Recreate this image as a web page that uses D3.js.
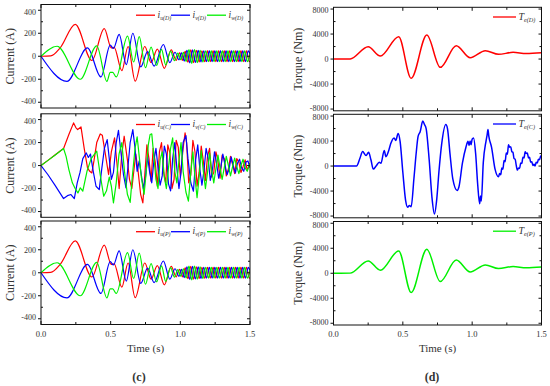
<!DOCTYPE html>
<html>
<head>
<meta charset="utf-8">
<script src="https://cdn.jsdelivr.net/npm/d3@7"></script>
<style>
  body { margin: 0; background: #fff; }
  text { font-family: "Liberation Serif", "Times New Roman", Times, serif; }
</style>
</head>
<body>
<svg id="chart" width="550" height="386"></svg>
<script>
// tick values
const timeTicks = [0, 0.5, 1.0, 1.5];
const timeMinor = [0.25, 0.75, 1.25];
const currentTicks = [-400, -200, 0, 200, 400];
const currentMinor = [-300, -100, 100, 300];
const torqueTicks = [-8000, -4000, 0, 4000, 8000];
const torqueMinor = [-6000, -2000, 2000, 6000];

// phase currents, (D) case  [time s, current A]
const iuD = [[0,0],[0.07,3],[0.139,75],[0.246,277],[0.365,-37],[0.454,240],[0.505,72],[0.525,78],[0.58,-125],[0.625,85],[0.676,-217],
  [0.745,85],[0.79,-55],[0.835,62],[0.885,-105],[0.935,55],[0.97,-35],[0.995,30],[1.015,-35],[1.035,42],[1.055,-52],
  [1.075,56],[1.095,-55],[1.115,52],[1.135,-50],[1.155,48],[1.175,-48],[1.195,47],[1.215,-47],[1.235,47],[1.255,-47],
  [1.275,47],[1.295,-47],[1.315,47],[1.335,-47],[1.355,47],[1.375,-47],[1.395,47],[1.415,-47],[1.435,47],[1.455,-47],
  [1.475,47],[1.495,-47],[1.5,-44]];
const ivD = [[0,0],[0.186,-218],[0.334,72],[0.43,-180],[0.497,96],[0.52,68],[0.561,190],[0.612,-72],[0.659,200],[0.716,-92],
  [0.765,40],[0.812,-85],[0.878,102],[0.925,-55],[0.962,35],[0.99,-30],[1.008,30],[1.028,-42],[1.048,52],[1.068,-57],
  [1.088,55],[1.108,-54],[1.128,51],[1.148,-49],[1.168,48],[1.188,-47],[1.208,47],[1.228,-47],[1.248,47],[1.268,-47],
  [1.288,47],[1.308,-47],[1.328,47],[1.348,-47],[1.368,47],[1.388,-47],[1.408,47],[1.428,-47],[1.448,47],[1.468,-47],
  [1.488,47],[1.5,20]];
const iwD = [[0,0],[0.115,87],[0.282,-200],[0.40,90],[0.473,-218],[0.497,-140],[0.515,-140],[0.54,-180],[0.621,175],
  [0.665,-50],[0.705,170],[0.75,-100],[0.79,80],[0.83,-80],[0.865,60],[0.895,-75],[0.93,45],[0.958,-38],[0.982,28],
  [1.002,-30],[1.022,35],[1.042,-45],[1.062,58],[1.082,-62],[1.102,58],[1.122,-55],[1.142,52],[1.162,-50],[1.182,48],
  [1.202,-47],[1.222,47],[1.242,-47],[1.262,47],[1.282,-47],[1.302,47],[1.322,-47],[1.342,47],[1.362,-47],[1.382,47],
  [1.402,-47],[1.422,47],[1.442,-47],[1.462,47],[1.482,-47],[1.5,25]];

// phase currents, (C) case
const iuC = [[0,0],[0.05,45],[0.1,92],[0.162,148],[0.2,270],[0.234,371],[0.25,330],[0.263,313],[0.287,336],[0.31,150],
  [0.334,-20],[0.35,-50],[0.365,-64],[0.38,40],[0.40,200],[0.425,275],[0.44,264],[0.462,100],[0.485,-78],[0.505,120],
  [0.528,240],[0.545,20],[0.561,-200],[0.58,100],[0.597,255],[0.62,50],[0.635,-120],[0.652,-200],[0.665,-60],[0.68,100],
  [0.695,-30],[0.715,-250],[0.731,-325],[0.745,-80],[0.76,180],[0.775,60],[0.79,-135],[0.805,150],[0.82,30],[0.835,-180],
  [0.85,120],[0.865,200],[0.88,-60],[0.895,-150],[0.91,180],[0.925,110],[0.94,-200],[0.955,-120],[0.97,220],[0.985,160],
  [1.0,-100],[1.02,150],[1.034,284],[1.045,200],[1.06,-150],[1.075,-80],[1.09,220],[1.105,120],[1.12,-180],[1.135,-60],
  [1.15,170],[1.165,40],[1.18,-130],[1.195,80],[1.21,150],[1.225,-100],[1.24,-60],[1.255,120],[1.27,40],[1.285,-110],
  [1.3,90],[1.315,60],[1.33,-90],[1.345,-30],[1.36,80],[1.375,10],[1.39,-70],[1.405,60],[1.42,30],[1.435,-60],
  [1.45,-10],[1.465,50],[1.48,-40],[1.5,20]];
const ivC = [[0,0],[0.05,-80],[0.1,-170],[0.162,-287],[0.19,-262],[0.215,-252],[0.239,-287],[0.26,-150],[0.28,-60],[0.3,60],
  [0.325,110],[0.34,70],[0.355,100],[0.375,-50],[0.395,-180],[0.418,-209],[0.435,-40],[0.455,150],[0.475,226],[0.49,60],
  [0.505,-120],[0.52,-60],[0.54,200],[0.556,307],[0.575,100],[0.592,-80],[0.61,-195],[0.625,0],[0.64,200],[0.659,313],
  [0.675,150],[0.69,-50],[0.705,40],[0.72,-80],[0.735,-200],[0.75,-100],[0.765,80],[0.78,-60],[0.795,-150],[0.81,40],
  [0.825,150],[0.84,-20],[0.855,-170],[0.87,-90],[0.885,170],[0.9,100],[0.915,-160],[0.93,-220],[0.945,60],[0.96,200],
  [0.975,-20],[0.99,-200],[1.005,-60],[1.02,200],[1.04,260],[1.055,60],[1.075,-150],[1.094,-223],[1.11,50],[1.125,180],
  [1.14,-30],[1.155,-170],[1.17,-40],[1.185,150],[1.2,60],[1.215,-130],[1.23,-40],[1.245,120],[1.26,20],[1.275,-110],
  [1.29,-20],[1.305,100],[1.32,10],[1.335,-80],[1.35,-30],[1.365,75],[1.38,0],[1.395,-65],[1.41,20],[1.425,55],
  [1.44,-20],[1.455,-50],[1.47,30],[1.485,40],[1.5,-20]];
const iwC = [[0,0],[0.05,45],[0.1,90],[0.162,148],[0.18,80],[0.2,-35],[0.225,-150],[0.245,-200],[0.265,-238],[0.282,-194],
  [0.3,-223],[0.33,-50],[0.36,60],[0.40,125],[0.425,-80],[0.45,-267],[0.47,-220],[0.49,-100],[0.505,-180],[0.52,-325],
  [0.54,-150],[0.56,100],[0.58,200],[0.6,-60],[0.62,-250],[0.64,-320],[0.655,-100],[0.675,150],[0.69,250],[0.705,80],
  [0.72,-100],[0.74,-250],[0.755,-60],[0.77,180],[0.783,270],[0.795,275],[0.81,80],[0.825,-120],[0.84,-200],[0.855,50],
  [0.87,120],[0.885,-100],[0.9,-200],[0.915,-20],[0.93,150],[0.945,240],[0.96,-50],[0.975,-150],[0.99,40],[1.005,200],
  [1.02,-50],[1.04,-230],[1.058,-310],[1.075,-60],[1.09,120],[1.105,-100],[1.12,-280],[1.135,-100],[1.15,130],[1.165,-50],
  [1.18,-200],[1.195,-60],[1.21,110],[1.225,-40],[1.24,-150],[1.255,-30],[1.27,90],[1.285,-20],[1.3,-120],[1.315,-20],
  [1.33,80],[1.345,0],[1.36,-90],[1.375,-10],[1.39,65],[1.405,-10],[1.42,-70],[1.435,0],[1.45,55],[1.465,-20],
  [1.48,-50],[1.5,20]];

// (P) curves look the same as (D) in the figure
const iuP = iuD, ivP = ivD, iwP = iwD;

// electromagnetic torque [time s, torque Nm]
const teD = [[0,0],[0.12,20],[0.25,1970],[0.338,480],[0.47,3570],[0.56,-3090],[0.673,3840],[0.77,-1330],[0.885,2130],
  [0.986,210],[1.095,1330],[1.19,750],[1.295,1070],[1.39,880],[1.5,1000]];
const teC = [[0,0],[0.166,0],[0.19,1200],[0.21,2320],[0.235,1680],[0.253,2200],[0.27,1000],[0.287,-490],[0.307,0],
  [0.33,600],[0.342,430],[0.366,2500],[0.378,1500],[0.4,2600],[0.413,3600],[0.437,4500],[0.449,4100],[0.466,5200],
  [0.48,4000],[0.5,-1000],[0.52,-5500],[0.535,-6600],[0.547,-6300],[0.56,-6500],[0.58,-2000],[0.596,2000],[0.61,4750],
  [0.625,5500],[0.644,7190],[0.656,6650],[0.668,6000],[0.69,1000],[0.71,-5000],[0.728,-7675],[0.745,-5200],[0.76,-1000],
  [0.78,3500],[0.81,6650],[0.822,6000],[0.84,2000],[0.86,-2000],[0.892,-3900],[0.904,-3400],[0.93,500],[0.955,3000],
  [0.97,3950],[0.978,3300],[0.985,4000],[0.992,3400],[1.0,4300],[1.01,4500],[1.025,2000],[1.04,-3000],[1.054,-6050],
  [1.06,-4800],[1.066,-5600],[1.08,500],[1.1,4000],[1.108,5000],[1.114,5840],[1.12,4800],[1.14,3000],[1.165,-500],
  [1.19,-1730],[1.198,-1200],[1.206,-1400],[1.214,-300],[1.222,-500],[1.23,900],[1.238,700],[1.246,2100],[1.254,1900],
  [1.262,3400],[1.27,3000],[1.278,3100],[1.286,2300],[1.294,2200],[1.302,1200],[1.31,1100],[1.318,100],[1.326,-650],
  [1.334,-300],[1.342,-400],[1.35,500],[1.358,400],[1.366,1400],[1.374,1300],[1.382,2300],[1.39,2000],[1.398,2100],
  [1.406,1300],[1.414,1400],[1.422,600],[1.43,700],[1.438,100],[1.446,300],[1.454,0],[1.462,600],[1.47,500],
  [1.478,1100],[1.486,1000],[1.494,1600],[1.5,1400]];
const teP = teD;

const red = '#ff0000', blue = '#0000ff', green = '#00f000';
const ink = '#333';

const svg = d3.select('#chart');

function drawPanel(p) {
  let x = d3.scaleLinear().domain([0, 1.5]).range([p.x0, p.x1]);
  let y = d3.scaleLinear().domain(p.domain).range([p.top + p.h, p.top]);
  let g = svg.append('g');

  let clipId = 'clip' + Math.round(p.x0) + '_' + Math.round(p.top);
  g.append('clipPath').attr('id', clipId)
    .append('rect').attr('x', p.x0).attr('y', p.top).attr('width', p.x1 - p.x0).attr('height', p.h);

  let line = d3.line()
    .x(d => x(d[0]))
    .y(d => y(d[1]))
    .curve(p.curve);

  let lines = g.append('g').attr('clip-path', 'url(#' + clipId + ')');
  p.series.forEach(s => {
    lines.append('path')
      .datum(s.data)
      .attr('d', line)
      .attr('fill', 'none')
      .attr('stroke', s.color)
      .attr('stroke-width', p.lw)
      .attr('stroke-linejoin', 'round');
  });

  // frame
  g.append('rect')
    .attr('x', p.x0).attr('y', p.top)
    .attr('width', p.x1 - p.x0).attr('height', p.h)
    .attr('fill', 'none').attr('stroke', '#111').attr('stroke-width', 1);

  // ticks
  let tk = g.append('g').attr('stroke', '#111').attr('stroke-width', 1);
  p.ticks.forEach(v => {
    tk.append('line').attr('x1', p.x0 - 3).attr('x2', p.x0).attr('y1', y(v)).attr('y2', y(v));
    tk.append('line').attr('x1', p.x1 - 3).attr('x2', p.x1).attr('y1', y(v)).attr('y2', y(v));
  });
  p.minor.forEach(v => {
    tk.append('line').attr('x1', p.x0).attr('x2', p.x0 + 2).attr('y1', y(v)).attr('y2', y(v));
    tk.append('line').attr('x1', p.x1 - 2).attr('x2', p.x1).attr('y1', y(v)).attr('y2', y(v));
  });
  timeTicks.concat(timeMinor).forEach(t => {
    let len = timeTicks.includes(t) ? 3.5 : 2.5;
    tk.append('line').attr('x1', x(t)).attr('x2', x(t)).attr('y1', p.top + p.h).attr('y2', p.top + p.h - len);
    tk.append('line').attr('x1', x(t)).attr('x2', x(t)).attr('y1', p.top).attr('y2', p.top + len);
  });

  // end labels nudged inward so stacked panels do not collide
  let lo = d3.min(p.ticks), hi = d3.max(p.ticks);
  g.selectAll('.ylab')
    .data(p.ticks)
    .enter()
    .append('text')
    .attr('x', p.x0 - 5)
    .attr('y', d => y(d) + (d === hi ? 4.3 : d === lo ? 1.6 : 2.8))
    .attr('text-anchor', 'end')
    .attr('font-size', 8)
    .attr('fill', ink)
    .text(d => d);

  if (p.showX) {
    g.selectAll('.xlab')
      .data(timeTicks)
      .enter()
      .append('text')
      .attr('x', d => x(d))
      .attr('y', p.top + p.h + 12)
      .attr('text-anchor', 'middle')
      .attr('font-size', 8.5)
      .attr('fill', ink)
      .text(d => d.toFixed(1));
  }

  g.append('text')
    .attr('transform', 'translate(' + p.ylabX + ',' + (p.top + p.h / 2) + ') rotate(-90)')
    .attr('text-anchor', 'middle')
    .attr('font-size', 12)
    .attr('fill', ink)
    .text(p.ylabel);

  // legend
  p.series.forEach((s, i) => {
    let lx = p.legX[i];
    let ly = p.top + p.legDy;
    g.append('line')
      .attr('x1', lx).attr('x2', lx + p.legLen)
      .attr('y1', ly).attr('y2', ly)
      .attr('stroke', s.color).attr('stroke-width', 1.3);
    let t = g.append('text')
      .attr('x', lx + p.legLen + 2.5)
      .attr('y', ly + 2.5)
      .attr('font-style', 'italic')
      .attr('fill', ink);
    t.append('tspan').attr('font-size', p.legFont).text(s.sym);
    t.append('tspan').attr('font-size', p.legFont * 0.62).attr('dy', 2.2).text(s.sub);
  });

  return x;
}

const leftTops = [4.5, 113.8, 221];
const rightTops = [7.3, 114.3, 221.5];
const panelH = 103.5;

const currentSets = [
  [{data: iuD, color: red, sub: 'u(D)'}, {data: ivD, color: blue, sub: 'v(D)'}, {data: iwD, color: green, sub: 'w(D)'}],
  [{data: iuC, color: red, sub: 'u(C)'}, {data: ivC, color: blue, sub: 'v(C)'}, {data: iwC, color: green, sub: 'w(C)'}],
  [{data: iuP, color: red, sub: 'u(P)'}, {data: ivP, color: blue, sub: 'v(P)'}, {data: iwP, color: green, sub: 'w(P)'}]
];
const torqueSets = [
  [{data: teD, color: red, sub: 'e(D)'}],
  [{data: teC, color: blue, sub: 'e(C)'}],
  [{data: teP, color: green, sub: 'e(P)'}]
];

currentSets.forEach((set, i) => {
  set.forEach(s => s.sym = 'i');
  drawPanel({
    x0: 41, x1: 250, top: leftTops[i], h: panelH,
    domain: [-450, 450], ticks: currentTicks, minor: currentMinor,
    series: set, curve: i === 1 ? d3.curveLinear : d3.curveMonotoneX, lw: 1.2,
    ylabel: 'Current (A)', ylabX: 14, showX: i === 2,
    legX: [136, 171, 207], legLen: 19, legDy: 10.7, legFont: 9.5
  });
});

torqueSets.forEach((set, i) => {
  set.forEach(s => s.sym = 'T');
  drawPanel({
    x0: 333.5, x1: 541.5, top: rightTops[i], h: panelH,
    domain: [-8280, 8280], ticks: torqueTicks, minor: torqueMinor,
    series: set, curve: d3.curveMonotoneX, lw: 1.5,
    ylabel: 'Torque (Nm)', ylabX: 302, showX: i === 2,
    legX: [493], legLen: 23, legDy: 9.7, legFont: 10
  });
});

svg.append('text').attr('x', 145.5).attr('y', 352).attr('text-anchor', 'middle').attr('font-size', 11).attr('fill', ink).text('Time (s)');
svg.append('text').attr('x', 437.5).attr('y', 352).attr('text-anchor', 'middle').attr('font-size', 11).attr('fill', ink).text('Time (s)');
svg.append('text').attr('x', 139).attr('y', 381).attr('text-anchor', 'middle').attr('font-size', 12).attr('font-weight', 'bold').attr('fill', ink).text('(c)');
svg.append('text').attr('x', 432).attr('y', 381).attr('text-anchor', 'middle').attr('font-size', 12).attr('font-weight', 'bold').attr('fill', ink).text('(d)');
</script>
</body>
</html>
